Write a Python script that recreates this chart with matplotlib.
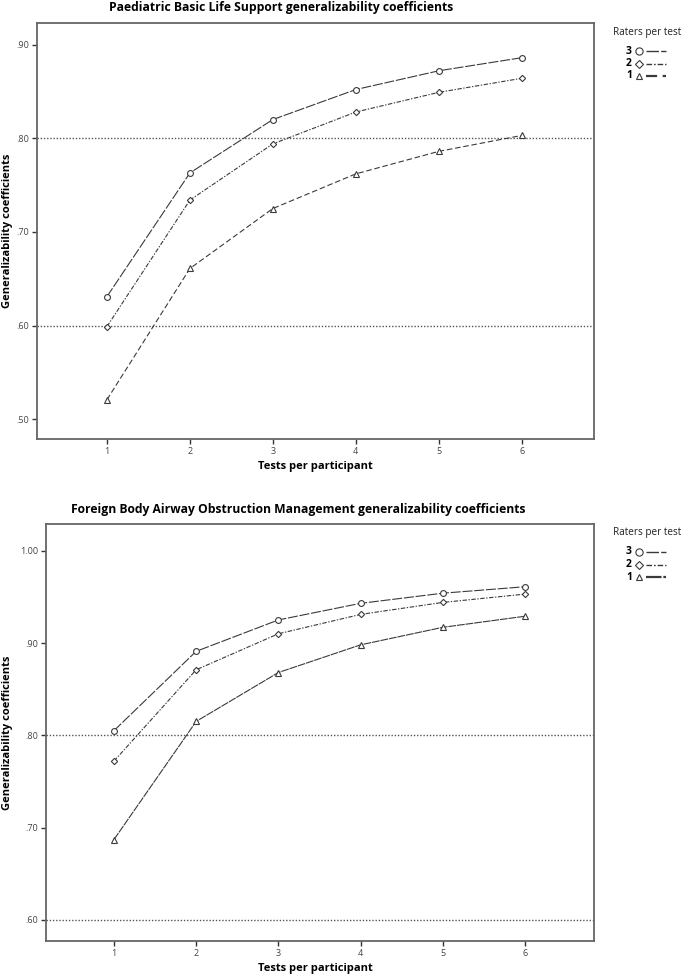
import matplotlib
matplotlib.use("Agg")
import matplotlib.pyplot as plt
from matplotlib.lines import Line2D

tests = [1, 2, 3, 4, 5, 6]
x_tick_labels = ["1", "2", "3", "4", "5", "6"]

# Paediatric Basic Life Support
pbls_r3 = [0.631, 0.763, 0.820, 0.852, 0.872, 0.886]
pbls_r2 = [0.599, 0.734, 0.794, 0.828, 0.849, 0.864]
pbls_r1 = [0.521, 0.661, 0.725, 0.762, 0.786, 0.803]
pbls_yticks = [0.50, 0.60, 0.70, 0.80, 0.90]
pbls_ytick_labels = [".50", ".60", ".70", ".80", ".90"]

# Foreign Body Airway Obstruction Management
fbao_r3 = [0.805, 0.891, 0.925, 0.943, 0.954, 0.961]
fbao_r2 = [0.772, 0.871, 0.910, 0.931, 0.944, 0.953]
fbao_r1 = [0.687, 0.815, 0.868, 0.898, 0.917, 0.929]
fbao_yticks = [0.60, 0.70, 0.80, 0.90, 1.00]
fbao_ytick_labels = [".60", ".70", ".80", ".90", "1.00"]

ref_lines = [0.60, 0.80]
rater_labels = ["3", "2", "1"]

titles = ["Paediatric Basic Life Support generalizability coefficients",
          "Foreign Body Airway Obstruction Management generalizability coefficients"]

plt.rcParams['font.family'] = ['Open Sans', 'DejaVu Sans']

W, H = 685, 976
fig = plt.figure(figsize=(W / 100, H / 100), dpi=100)

LC = "#3a3a3a"
styles = {
    "3": dict(marker="o", ls=(0, (9, 1.6)), ms=4.2),
    "2": dict(marker="D", ls=(0, (4, 1.4, 1.2, 1.4)), ms=3.2),
    "1": dict(marker="^", ls=(0, (5, 2.5)), ms=3.8),
}

def px(x0, y0, x1, y1):
    return [x0 / W, 1 - y1 / H, (x1 - x0) / W, (y1 - y0) / H]

panels = [
    dict(box=(37, 23, 594, 439), data=[pbls_r3, pbls_r2, pbls_r1],
         yt=pbls_yticks, ytl=pbls_ytick_labels, ylim=(0.479, 0.923), xlim=(0.157, 6.87),
         title=titles[0], title_x=281, title_y=8, title_fs=8.7, ls1=(0, (5, 2.5))),
    dict(box=(46, 524, 594, 941), data=[fbao_r3, fbao_r2, fbao_r1],
         yt=fbao_yticks, ytl=fbao_ytick_labels, ylim=(0.577, 1.029), xlim=(0.173, 6.84),
         title=titles[1], title_x=298, title_y=509, title_fs=8.7, ls1=(0, (7, 0.8))),
]

for p in panels:
    x0, y0, x1, y1 = p["box"]
    ax = fig.add_axes(px(x0, y0, x1, y1))
    for yv in ref_lines:
        ax.axhline(yv, color="#555555", lw=1.0, ls=(0, (1, 1.3)), zorder=1)
    for lab, series in zip(rater_labels, p["data"]):
        st = dict(styles[lab])
        if lab == "1":
            st["ls"] = p["ls1"]
        ax.plot(tests, series, color=LC, lw=0.8, ls=st["ls"], marker=st["marker"],
                ms=st["ms"], mfc="white", mec=LC, mew=0.8, zorder=3)
    ax.set_xlim(*p["xlim"])
    ax.set_ylim(*p["ylim"])
    ax.set_xticks(tests)
    ax.set_xticklabels(x_tick_labels)
    ax.set_yticks(p["yt"])
    ax.set_yticklabels(p["ytl"])
    ax.tick_params(axis="both", labelsize=6.5, colors="#333333", length=3.5, width=1.0,
                   pad=2, labelcolor="#444444")
    for s in ax.spines.values():
        s.set_color("#666666")
        s.set_linewidth(1.3)
    aw, ah = x1 - x0, y1 - y0
    ax.set_xlabel("Tests per participant", fontsize=8, fontweight="bold")
    ax.xaxis.set_label_coords(0.5 + (315 - (x0 + x1) / 2) / aw, -27.5 / ah)
    ax.xaxis.label.set_va("center")
    ax.set_ylabel("Generalizability coefficients", fontsize=8, fontweight="bold")
    ax.yaxis.set_label_coords((8 - x0) / aw, 0.5)
    ax.yaxis.label.set_va("center")
    fig.text(p["title_x"] / W, 1 - p["title_y"] / H, p["title"], ha="center", va="center",
             fontsize=p["title_fs"], fontweight="bold")

    # legend
    fig.text(613 / W, 1 - (y0 + 9) / H, "Raters per test", fontsize=7.2,
             ha="left", va="center", color="#222222")
    for i, lab in enumerate(rater_labels):
        yy = y0 + 28 + i * 12.5
        fy = 1 - yy / H
        fig.text(632 / W, fy, lab, fontsize=7.5, fontweight="bold", ha="right", va="center")
        st = styles[lab]
        fig.add_artist(Line2D([639 / W], [fy], marker=st["marker"], ms=st["ms"] + 1,
                              mfc="white", mec=LC, mew=0.8, ls="none"))
        lls = p["ls1"] if lab == "1" else st["ls"]
        fig.add_artist(Line2D([646 / W, 666 / W], [fy, fy], color=LC,
                              lw=1.0 if lab != "1" else 1.6, ls=lls))

fig.savefig("out.png", dpi=100)
